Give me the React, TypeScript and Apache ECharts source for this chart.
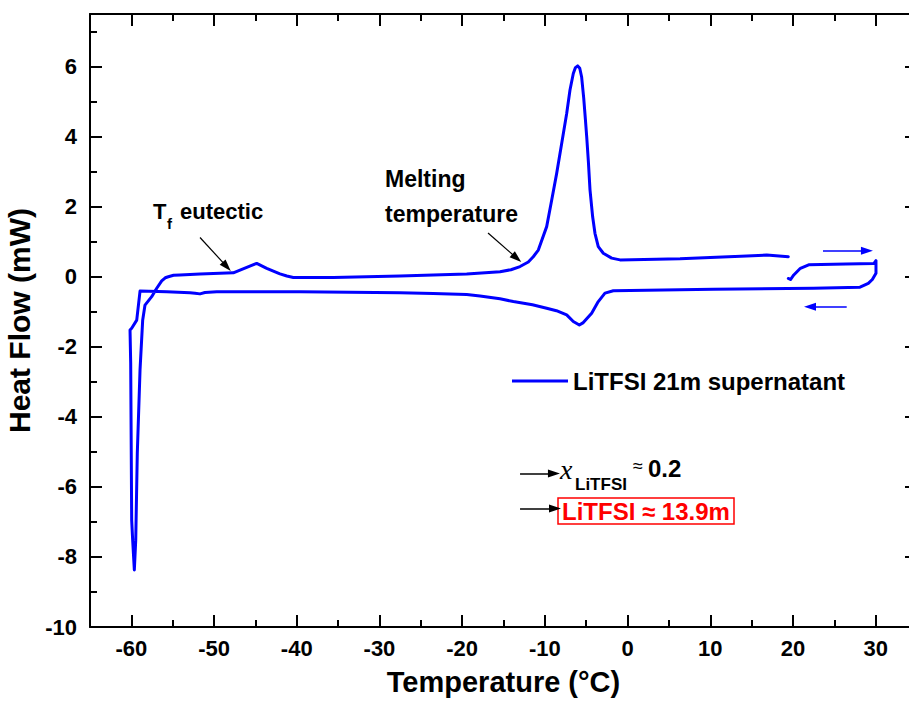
import { useEffect, useRef } from "react";
import * as echarts from "echarts";

const FONT = '"Liberation Sans", Arial, Helvetica, sans-serif';
const SERIF = '"Liberation Serif", "Times New Roman", serif';
const BLUE = "#0000ff";
const RED = "#ff0000";

// Axis ranges and tick positions
const xRange = [-65, 35];
const yRange = [-10, 7.5];
const xMajorTicks = [-60, -50, -40, -30, -20, -10, 0, 10, 20, 30];
const xMinorTicks = [-55, -45, -35, -25, -15, -5, 5, 15, 25];
const yMajorTicks = [-10, -8, -6, -4, -2, 0, 2, 4, 6];
const yMinorTicks = [-9, -7, -5, -3, -1, 1, 3, 5, 7];

const seriesName = "LiTFSI 21m supernatant";

// DSC trace, [temperature °C, heat flow mW], in recording order.
// Short re-heating tail up to the 30 °C hold
const reheatTail: [number, number][] = [
  [19.44, -0.05], [19.7, -0.08], [20.1, 0.05], [20.9, 0.24], [21.9, 0.34],
  [26.4, 0.36], [29.8, 0.38], [30.04, 0.46],
];
// Cooling scan from 30 °C down to -60 °C, with the crystallisation spike
const coolingScan: [number, number][] = [
  [30.04, 0.1], [29.6, -0.08], [29.11, -0.19], [28.11, -0.3], [22.46, -0.33], [10.37, -0.36],
  [-1.72, -0.4], [-2.73, -0.47], [-3.54, -0.71], [-4.34, -1.04], [-5.35, -1.31],
  [-5.83, -1.38], [-6.56, -1.28], [-7.36, -1.09], [-8.6, -0.97], [-9.78, -0.9],
  [-11.5, -0.8], [-13.81, -0.71], [-15.42, -0.63], [-17.84, -0.55], [-19.45, -0.51],
  [-23.5, -0.48], [-27.52, -0.46], [-39.61, -0.43], [-49.68, -0.43],
  [-51.1, -0.45], [-51.7, -0.49], [-52.3, -0.47], [-52.91, -0.46], [-55.73, -0.43],
  [-58.95, -0.41], [-59.35, -1.24], [-59.96, -1.47], [-60.16, -1.52], [-60.08, -2.46],
  [-59.96, -6.95], [-59.84, -7.52], [-59.64, -8.37],
];
// Heating scan from -60 °C, eutectic bump and main melting peak
const heatingScan: [number, number][] = [
  [-59.47, -7.52], [-59.28, -5.03], [-58.95, -2.66], [-58.63, -1.24], [-58.35, -0.81],
  [-57.54, -0.57], [-56.93, -0.33], [-56.33, -0.12], [-55.9, -0.03], [-55.53, 0.0],
  [-54.9, 0.04], [-54.12, 0.05], [-51.7, 0.08], [-47.67, 0.11], [-46.86, 0.19],
  [-45.6, 0.31], [-44.84, 0.38], [-43.63, 0.24], [-42.03, 0.08], [-41.2, 0.02],
  [-40.42, -0.02], [-35.58, -0.02], [-27.52, 0.02], [-19.45, 0.08],
  [-15.42, 0.14], [-14.1, 0.2], [-13.0, 0.29], [-12.0, 0.42], [-11.4, 0.57],
  [-10.79, 0.76], [-9.78, 1.43], [-9.17, 2.19], [-8.57, 2.95], [-7.96, 3.81],
  [-7.36, 4.66], [-6.96, 5.33], [-6.56, 5.8], [-6.3, 5.97], [-6.03, 6.02],
  [-5.78, 5.95], [-5.55, 5.7], [-5.3, 5.1], [-5.1, 4.5], [-4.94, 4.0],
  [-4.74, 3.3], [-4.54, 2.48], [-4.22, 1.71], [-3.94, 1.24], [-3.54, 0.86],
  [-2.93, 0.67], [-1.92, 0.53], [-0.91, 0.48], [6.35, 0.51], [14.41, 0.59],
  [16.83, 0.62], [19.44, 0.57],
];

// Annotation arrows in data coordinates: [from, to]
const eutecticArrow = [[-51.7, 1.12], [-48.47, 0.29]];
const meltingArrow = [[-16.87, 1.25], [-13.4, 0.53]];
const heatingDirArrow = [[23.63, 0.74], [28.95, 0.74]];
const coolingDirArrow = [[26.5, -0.86], [22.06, -0.86]];
const fractionArrow = [[-13.0, -5.62], [-8.9, -5.62]];
const molalityArrow = [[-13.0, -6.62], [-8.77, -6.62]];

function arrow(pts: number[][], color: string, width: number) {
  return [
    { coord: pts[0], lineStyle: { color, width, type: "solid" } },
    { coord: pts[1] },
  ];
}

function xAxisDef(position: "top" | "bottom", ticks: number[], len: number, main: boolean, labelled: boolean) {
  return {
    type: "value",
    position,
    min: xRange[0],
    max: xRange[1],
    axisLine: { show: main, onZero: false, lineStyle: { color: "#000", width: 2 } },
    axisTick: { show: true, inside: true, length: len, customValues: ticks, lineStyle: { color: "#000", width: 2 } },
    axisLabel: labelled
      ? { show: true, customValues: ticks, color: "#000", fontFamily: FONT, fontWeight: "bold", fontSize: 22, margin: 10 }
      : { show: false },
    splitLine: { show: false },
    ...(labelled
      ? {
          name: "Temperature (°C)",
          nameLocation: "middle",
          nameGap: 40,
          nameTextStyle: { color: "#000", fontFamily: FONT, fontWeight: "bold", fontSize: 29 },
        }
      : {}),
  };
}

function yAxisDef(position: "left" | "right", ticks: number[], len: number, main: boolean, labelled: boolean) {
  return {
    type: "value",
    position,
    min: yRange[0],
    max: yRange[1],
    axisLine: { show: main, onZero: false, lineStyle: { color: "#000", width: 2 } },
    axisTick: { show: true, inside: true, length: len, customValues: ticks, lineStyle: { color: "#000", width: 2 } },
    axisLabel: labelled
      ? { show: true, customValues: ticks, color: "#000", fontFamily: FONT, fontWeight: "bold", fontSize: 22, margin: 13 }
      : { show: false },
    splitLine: { show: false },
    ...(labelled
      ? {
          name: "Heat Flow (mW)",
          nameLocation: "middle",
          nameRotate: 90,
          nameGap: 45,
          nameTextStyle: { color: "#000", fontFamily: FONT, fontWeight: "bold", fontSize: 30 },
        }
      : {}),
  };
}

function label(text: string, x: number, y: number, size: number, opts: any = {}) {
  return {
    type: "text",
    x,
    y,
    silent: true,
    style: {
      text,
      fill: opts.fill || "#000",
      fontFamily: opts.family || FONT,
      fontWeight: opts.weight || "bold",
      fontStyle: opts.italic ? "italic" : "normal",
      fontSize: size,
      align: "left",
      verticalAlign: "middle",
      textAlign: "left",
      textVerticalAlign: "middle",
    },
  };
}

export default function App() {
  const ref = useRef<HTMLDivElement>(null);

  useEffect(() => {
    if (!ref.current) return;
    const chart = echarts.init(ref.current, null, { renderer: "svg" });
    const trace = [...reheatTail, ...coolingScan, ...heatingScan];

    chart.setOption({
      animation: false,
      backgroundColor: "#fff",
      grid: { left: 90, top: 14, width: 827, height: 613, containLabel: false, outerBoundsMode: "none" },
      legend: {
        show: true,
        data: [{ name: seriesName, icon: "rect" }],
        left: 507,
        top: 364,
        padding: 5,
        itemWidth: 56,
        itemHeight: 3,
        textStyle: { color: "#000", fontFamily: FONT, fontWeight: "bold", fontSize: 24 },
      },
      xAxis: [
        xAxisDef("bottom", xMajorTicks, 12, true, true),
        xAxisDef("bottom", xMinorTicks, 7, false, false),
        xAxisDef("top", xMajorTicks, 12, true, false),
        xAxisDef("top", xMinorTicks, 7, false, false),
      ],
      yAxis: [
        yAxisDef("left", yMajorTicks, 12, true, true),
        yAxisDef("left", yMinorTicks, 7, false, false),
        yAxisDef("right", yMajorTicks, 12, true, false),
        yAxisDef("right", yMinorTicks, 7, false, false),
      ],
      series: [
        {
          name: seriesName,
          type: "line",
          xAxisIndex: 0,
          yAxisIndex: 0,
          data: trace,
          symbol: "none",
          showSymbol: false,
          smooth: false,
          lineStyle: { color: BLUE, width: 3, join: "round", cap: "round" },
          itemStyle: { color: BLUE },
          markLine: {
            silent: true,
            symbol: ["none", "triangle"],
            symbolSize: [8, 12],
            label: { show: false },
            emphasis: { disabled: true },
            data: [
              arrow(eutecticArrow, "#000", 1.2),
              arrow(meltingArrow, "#000", 1.2),
              arrow(heatingDirArrow, BLUE, 1.5),
              arrow(coolingDirArrow, BLUE, 1.5),
              arrow(fractionArrow, "#000", 1.5),
              arrow(molalityArrow, "#000", 1.5),
            ],
          },
        },
      ],
      graphic: [
        label("T", 153, 211, 22),
        label("f", 167, 223, 15),
        label("eutectic", 180, 211, 22),
        label("Melting", 385, 179, 23),
        label("temperature", 385, 214, 23),
        label("x", 560, 469, 28, { family: SERIF, weight: "normal", italic: true }),
        label("LiTFSI", 575, 484, 17),
        label("≈", 633, 466, 18, { weight: "normal" }),
        label("0.2", 648, 468, 24),
        {
          type: "rect",
          silent: true,
          shape: { x: 558, y: 498, width: 176, height: 26 },
          style: { fill: "none", stroke: RED, lineWidth: 1.5 },
        },
        label("LiTFSI ≈ 13.9m", 562, 511, 24, { fill: RED }),
      ],
    });

    return () => chart.dispose();
  }, []);

  return <div ref={ref} style={{ position: "absolute", left: 0, top: 0, width: 909, height: 706 }} />;
}
